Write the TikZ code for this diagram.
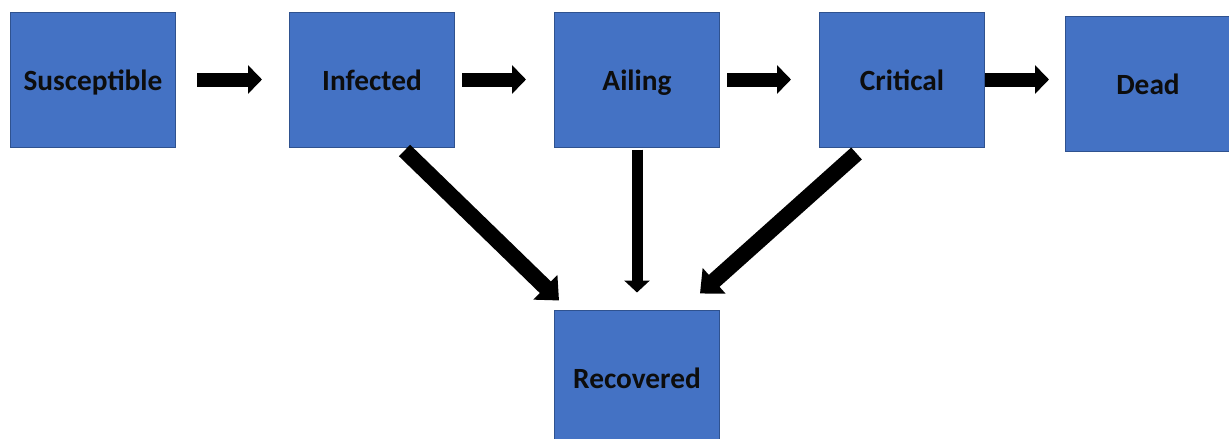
\documentclass[tikz,border=0pt]{standalone}
\usepackage{fontspec}
\setmainfont{Carlito}
\usetikzlibrary{arrows.meta, positioning}
\definecolor{stateblue}{HTML}{4472C4}
\definecolor{stateedge}{HTML}{2F528F}
\definecolor{labelblack}{HTML}{0D0D0D}

\begin{document}
\begin{tikzpicture}[x=0.75pt, y=-0.75pt,
  state/.style={rectangle, draw=stateedge, fill=stateblue, line width=0.75pt, minimum width=123.75pt, minimum height=101.25pt, text=labelblack, text height=16pt, text depth=0pt, font=\bfseries\fontsize{22}{26}\selectfont},
  flow/.style={draw=black, line width=10.5pt, -{Triangle[length=10.5pt, width=21pt]}},
  thin flow/.style={draw=black, line width=8.25pt, -{Triangle[length=9pt, width=18.75pt]}},
  wide flow/.style={draw=black, line width=12pt, -{Triangle[length=14.25pt, width=25pt]}}
]
  \path[use as bounding box, clip] (0,0) rectangle (1229,439);

  \node[state] (sus) at (93,79.5) {Susceptible};
  \node[state, right=84.75pt of sus] (inf) {Infected};
  \node[state, right=74.25pt of inf] (ail) {Ailing};
  \node[state, right=74.25pt of ail] (cri) {Critical};
  \node[state, right=60pt of cri, yshift=-3pt] (dead) {Dead};
  \node[state, below=121.5pt of ail] (rec) {Recovered};

  \draw[flow, shorten <=15.75pt, shorten >=20.25pt] (sus.east) -- (inf.west);
  \draw[flow, shorten <=5.25pt, shorten >=21pt] (inf.east) -- (ail.west);
  \draw[flow, shorten <=5.25pt, shorten >=21pt] (ail.east) -- (cri.west);
  \draw[flow, shorten >=12pt] (cri.east) -- (cri.east -| dead.west);

  \draw[wide flow] ([shift={(24.4pt,-2.25pt)}]inf.south) -- ([shift={(3.75pt,6.75pt)}]rec.north west);
  \draw[thin flow, shorten <=1.5pt, shorten >=12.75pt] (ail.south) -- (rec.north);
  \draw[wide flow] ([shift={(-34.1pt,-4.5pt)}]cri.south) -- ([shift={(-15pt,12pt)}]rec.north east);
\end{tikzpicture}
\end{document}
